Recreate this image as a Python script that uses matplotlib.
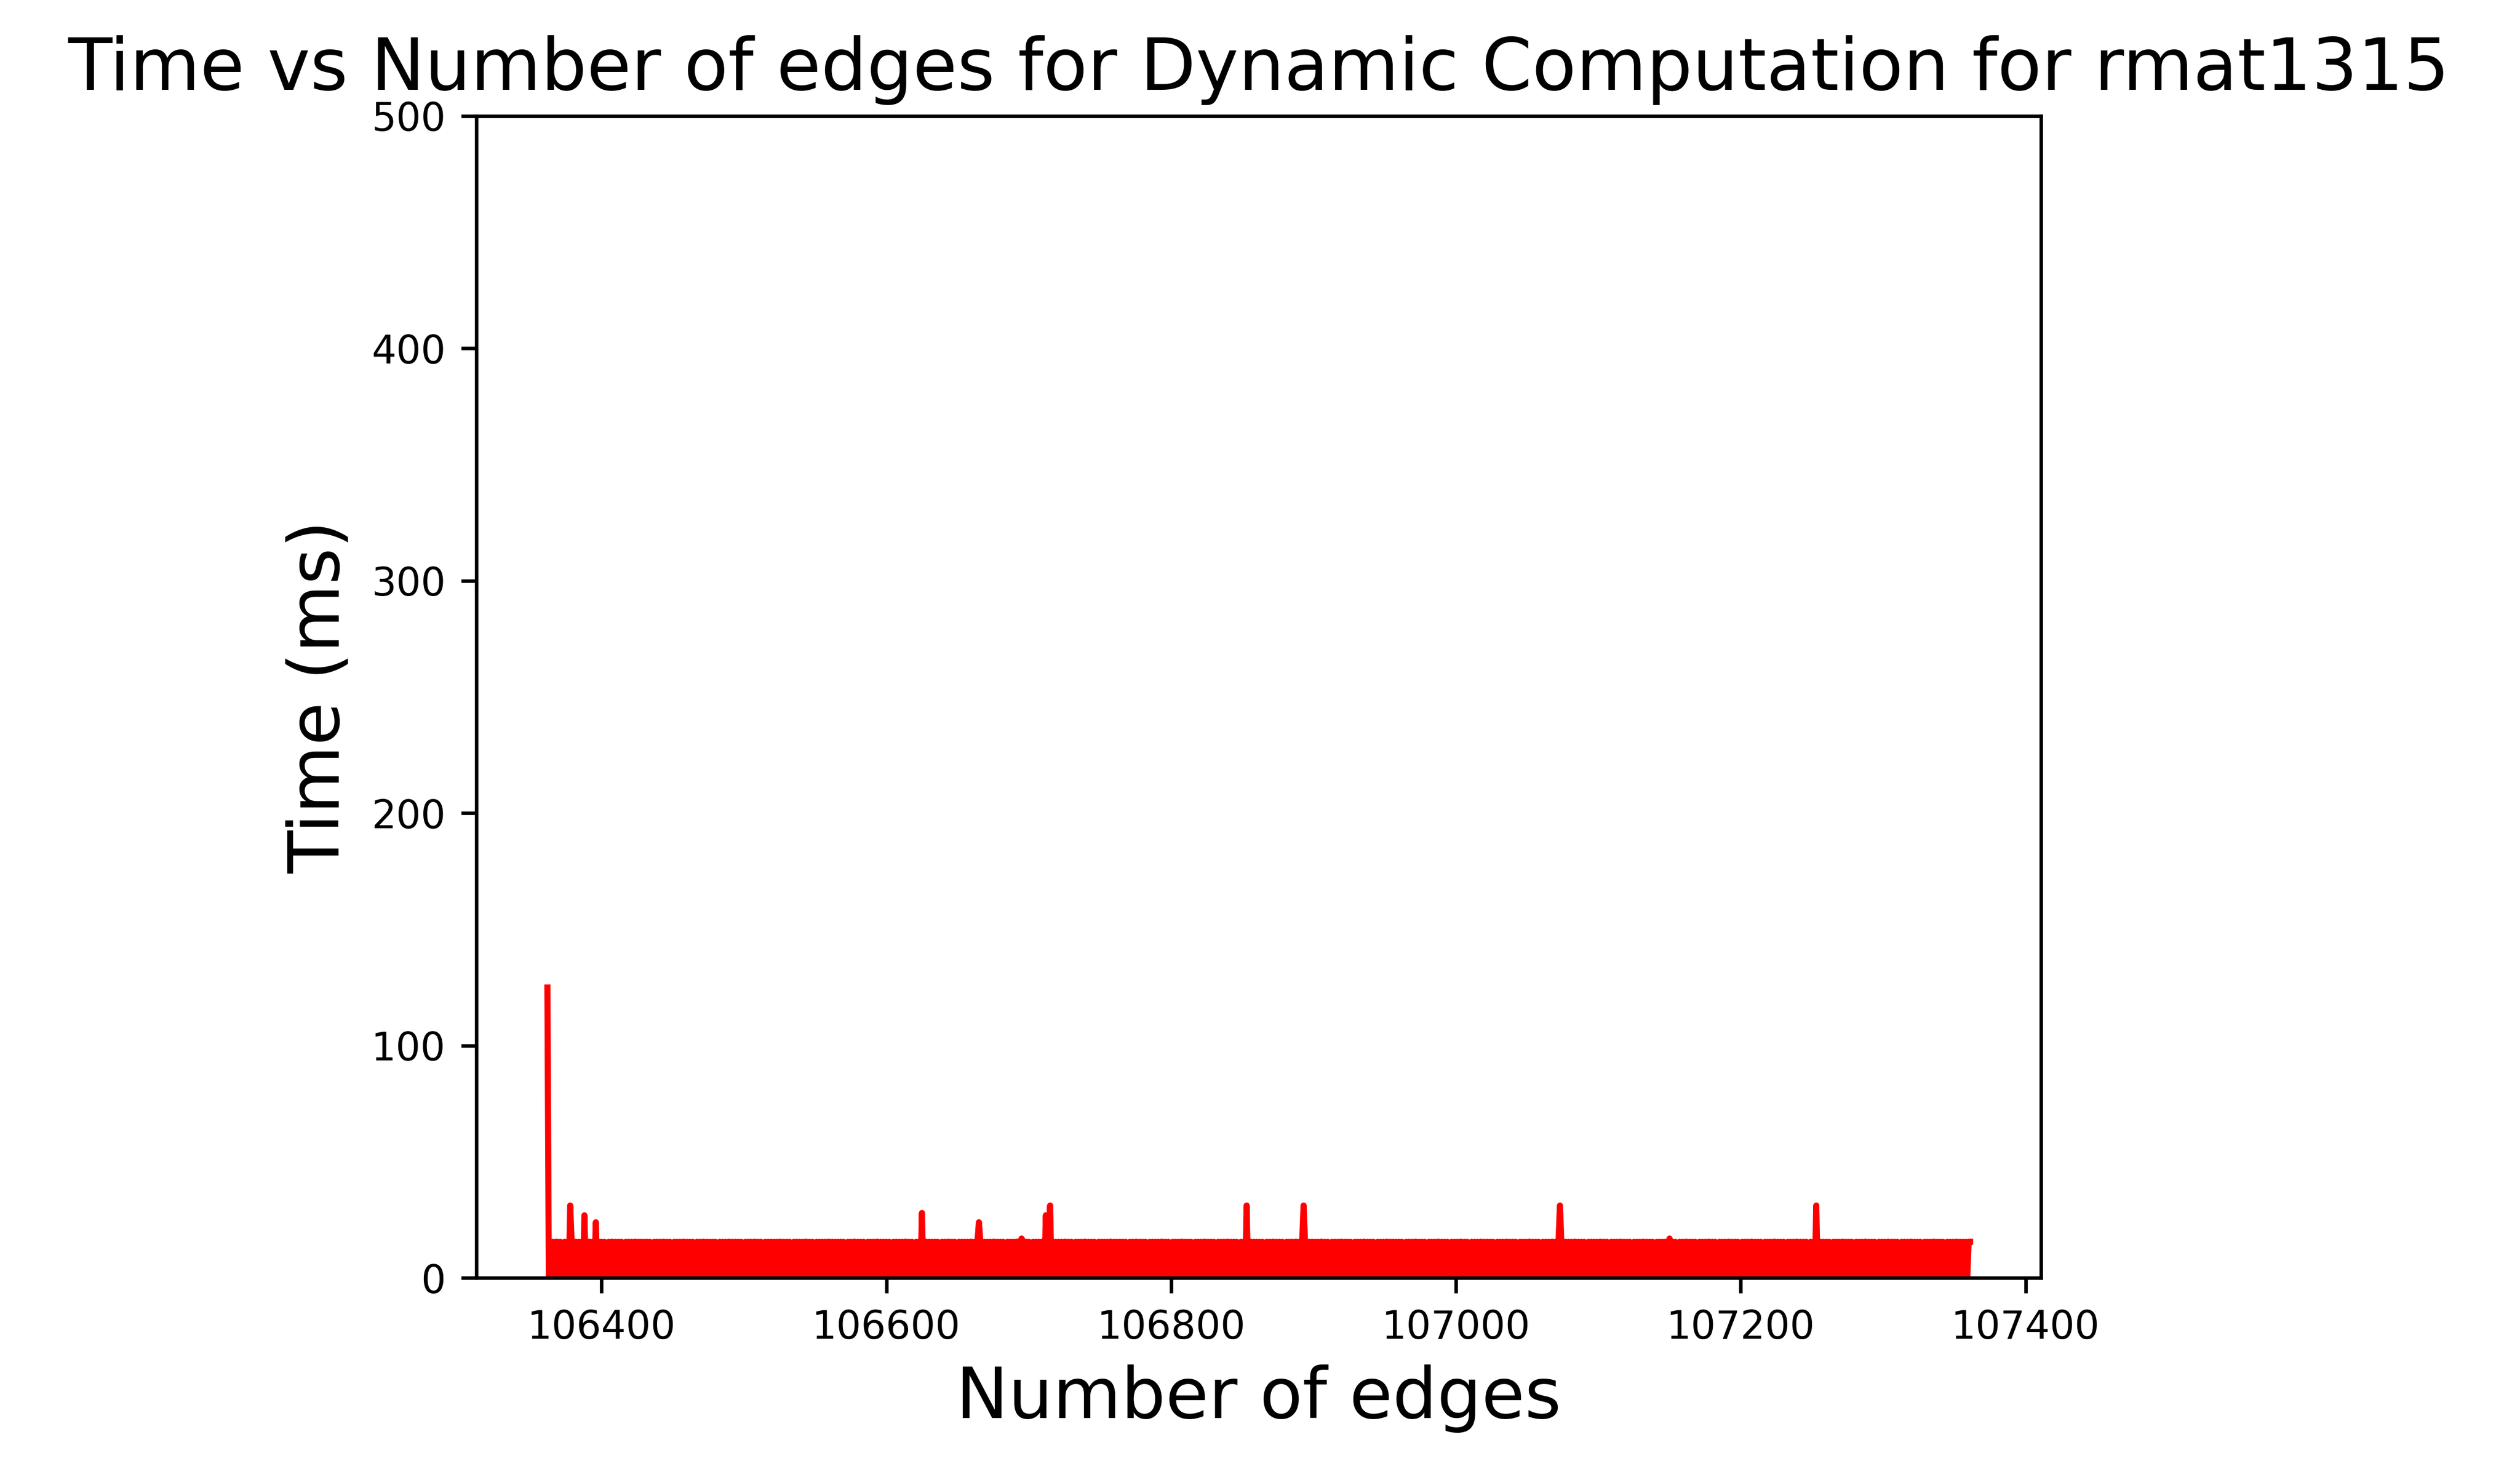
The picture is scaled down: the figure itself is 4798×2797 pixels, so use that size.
import matplotlib
matplotlib.use("Agg")
import matplotlib.pyplot as plt
import numpy as np

# number of edges starts here, one sample per edge
start_edges = 106362

# base samples: 0 -> 0 ms, 1 -> one timer tick (15.6 ms)
base_codes = (
    "1010101101001010110010101010011010101010100101101010100101010110101010101001010101101010010101011010"
    "1010010101101010101001010101101010101001010101101010010101010101101010100101010101101010010101010110"
    "1010101010010101101010100101010110101010100101010101101010010101011010101010010101101010010101010110"
    "1010100101010110101010010101011010101010010101011010100101010101101010010101011010101001010101011010"
    "1010101001010110101010010101010110101001010101101010100101010110101010010101011010101001010101101010"
    "1010010101101010100101010110101010010101010110101001010101101010100101010110101010010101011010101010"
    "1001010101101010100101010110101010010101011010100101010110101010100101010110101010010101011010101001"
    "0101011010101001010101101010100101010101101010010101011010101001010101101010100101010110101010010101"
    "1010101001010101101010010101011010101001010101101010100101010110101010010101011010101001010101101010"
    "1001010101101010100101010110101010010101011010101001010101101010100101010110101010010101011010101011"
)
tick_ms = 15.6

# occasional longer updates (edge count, ms)
spike_edges = [106362, 106378, 106388, 106396, 106625, 106665, 106695,
               106712, 106715, 106853, 106893, 107073, 107150, 107253]
spike_ms = [125, 31.2, 27, 24, 28, 24, 17, 27, 31.2, 31.2, 31.2, 31.2, 17, 31.2]

edges = start_edges + np.arange(len(base_codes))
times = np.array([int(c) * tick_ms for c in base_codes])
for e, v in zip(spike_edges, spike_ms):
    times[e - start_edges] = v

fig = plt.figure(figsize=(4798 / 600, 2797 / 600), dpi=600)
ax = fig.add_axes([0.189, 0.130, 0.621, 0.791])
ax.plot(edges, times, color="red", linewidth=1.4)
ax.set_ylim(0, 500)
ax.set_xticks([106400, 106600, 106800, 107000, 107200, 107400])
ax.tick_params(labelsize=8.9)
ax.set_xlabel("Number of edges", fontsize=16)
ax.set_ylabel("Time (ms)", fontsize=16)
ax.set_title("Time vs Number of edges for Dynamic Computation for rmat1315", fontsize=16.5)
fig.savefig("out.png", dpi=600)
